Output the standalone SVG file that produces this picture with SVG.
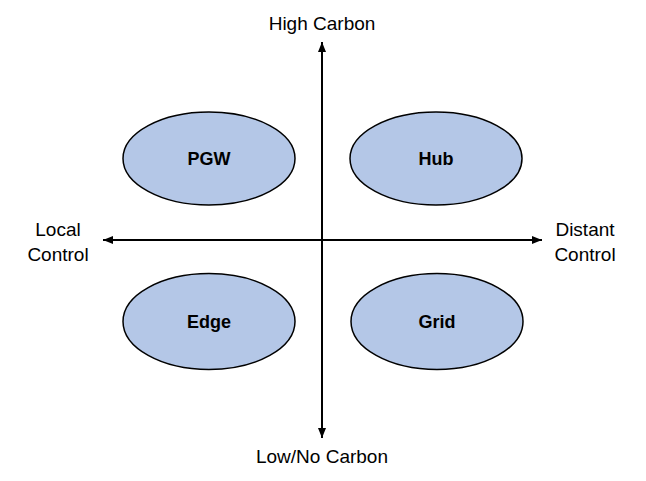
<svg xmlns="http://www.w3.org/2000/svg" width="646" height="481" viewBox="0 0 646 481">
<style>
.node ellipse{fill:#b4c7e7;stroke:#000;stroke-width:1.5}
.node text{font-family:"Liberation Sans",Arial,sans-serif;font-weight:bold;font-size:18px;text-anchor:middle;fill:#000}
.lbl{font-family:"Liberation Sans",Arial,sans-serif;font-size:19px;text-anchor:middle;fill:#000}
.axis{stroke:#000;stroke-width:2;fill:none}
</style>
<defs>
<marker id="ah" viewBox="0 0 10 8" refX="10" refY="4" markerWidth="10" markerHeight="8" markerUnits="userSpaceOnUse" orient="auto">
<path d="M0,0 L10,4 L0,8 Z" fill="#000"/>
</marker>
</defs>
<rect width="646" height="481" fill="#fff"/>
<g id="connectors">
<line class="axis" x1="322" y1="240" x2="322" y2="42" marker-end="url(#ah)"/>
<line class="axis" x1="322" y1="240" x2="322" y2="438" marker-end="url(#ah)"/>
<line class="axis" x1="322" y1="240" x2="103" y2="240" marker-end="url(#ah)"/>
<line class="axis" x1="322" y1="240" x2="542" y2="240" marker-end="url(#ah)"/>
</g>
<g id="pgw" class="node"><ellipse cx="209" cy="158.5" rx="86" ry="46.5"/><text x="209" y="165">PGW</text></g>
<g id="hub" class="node"><ellipse cx="436" cy="158.5" rx="86" ry="46.5"/><text x="436" y="165">Hub</text></g>
<g id="edge" class="node"><ellipse cx="209" cy="321.5" rx="86" ry="48"/><text x="209" y="328">Edge</text></g>
<g id="grid" class="node"><ellipse cx="437" cy="321.5" rx="86" ry="48"/><text x="437" y="328">Grid</text></g>
<g id="labels">
<text class="lbl" x="322" y="30">High Carbon</text>
<text class="lbl" x="322" y="463">Low/No Carbon</text>
<text class="lbl" x="58" y="236">Local</text>
<text class="lbl" x="58" y="261">Control</text>
<text class="lbl" x="585" y="236">Distant</text>
<text class="lbl" x="585" y="261">Control</text>
</g>
</svg>
